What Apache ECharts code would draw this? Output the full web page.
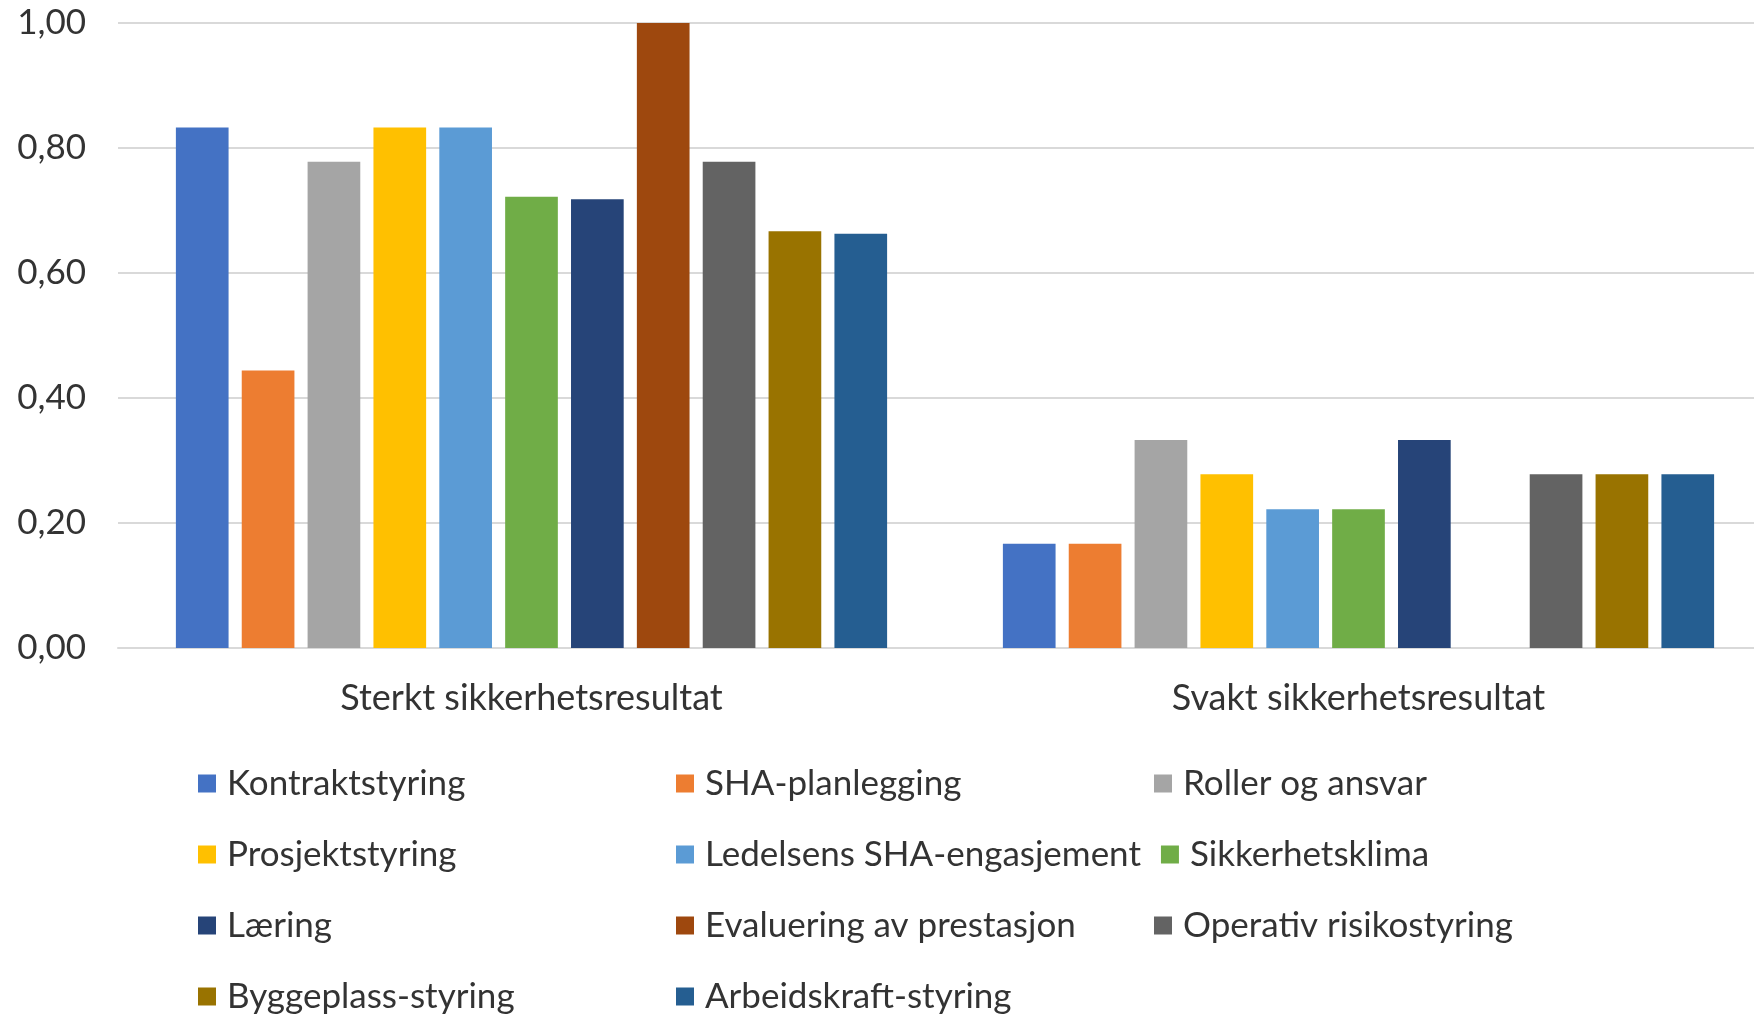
<!DOCTYPE html>
<html>
<head>
<meta charset="utf-8">
<script src="https://cdn.jsdelivr.net/npm/echarts@6/dist/echarts.min.js"></script>
<style>
html,body{margin:0;padding:0;background:#fff;overflow:hidden;}
#chart{width:1772px;height:1019px;}
</style>
</head>
<body>
<div id="chart"></div>
<script>
const categories = ['Sterkt sikkerhetsresultat', 'Svakt sikkerhetsresultat'];
const seriesNames = ['Kontraktstyring','SHA-planlegging','Roller og ansvar','Prosjektstyring','Ledelsens SHA-engasjement','Sikkerhetsklima','Læring','Evaluering av prestasjon','Operativ risikostyring','Byggeplass-styring','Arbeidskraft-styring'];
const kontraktstyring = [0.833, 0.167];
const shaPlanlegging = [0.444, 0.167];
const rollerOgAnsvar = [0.778, 0.333];
const prosjektstyring = [0.833, 0.278];
const ledelsensSHA = [0.833, 0.222];
const sikkerhetsklima = [0.722, 0.222];
const laering = [0.718, 0.333];
const evaluering = [1.0, 0];
const operativRisiko = [0.778, 0.278];
const byggeplass = [0.667, 0.278];
const arbeidskraft = [0.663, 0.278];
const yTicks = [0, 0.2, 0.4, 0.6, 0.8, 1.0];

const values = [kontraktstyring, shaPlanlegging, rollerOgAnsvar, prosjektstyring, ledelsensSHA, sikkerhetsklima, laering, evaluering, operativRisiko, byggeplass, arbeidskraft];
const colors = ['#4472C4','#ED7D31','#A5A5A5','#FFC000','#5B9BD5','#70AD47','#264478','#9E480E','#636363','#997300','#255E91'];

const FONT = 'Lato';
const TXT = '#333333';

const chart = echarts.init(document.getElementById('chart'));
chart.setOption({
  animation: false,
  color: colors,
  textStyle: { fontFamily: FONT },
  grid: { left: 118, right: 0, top: 23, bottom: 371, containLabel: false },
  xAxis: {
    type: 'category',
    data: categories,
    axisLine: { show: true, lineStyle: { color: '#d9d9d9', width: 2 } },
    axisTick: { show: false },
    axisLabel: { color: TXT, fontSize: 36, fontFamily: FONT, margin: 32 }
  },
  yAxis: {
    type: 'value',
    min: yTicks[0],
    max: yTicks[yTicks.length - 1],
    interval: 0.2,
    axisLine: { show: false },
    axisTick: { show: false },
    splitLine: { lineStyle: { color: '#d9d9d9', width: 2 } },
    axisLabel: {
      color: TXT, fontSize: 35, fontFamily: FONT, margin: 32,
      formatter: v => v.toFixed(2).replace('.', ',')
    }
  },
  legend: {
    left: 193,
    top: 753,
    width: 1450,
    orient: 'horizontal',
    icon: 'rect',
    itemWidth: 18,
    itemHeight: 18,
    itemGap: 20,
    textStyle: { color: TXT, fontSize: 35, fontFamily: FONT, width: 429, lineHeight: 51, padding: [0,0,0,6] },
    data: seriesNames
  },
  series: seriesNames.map((name, i) => ({
    name: name,
    type: 'bar',
    data: values[i],
    barGap: '25%',
    barCategoryGap: '14%'
  }))
});
</script>
</body>
</html>
